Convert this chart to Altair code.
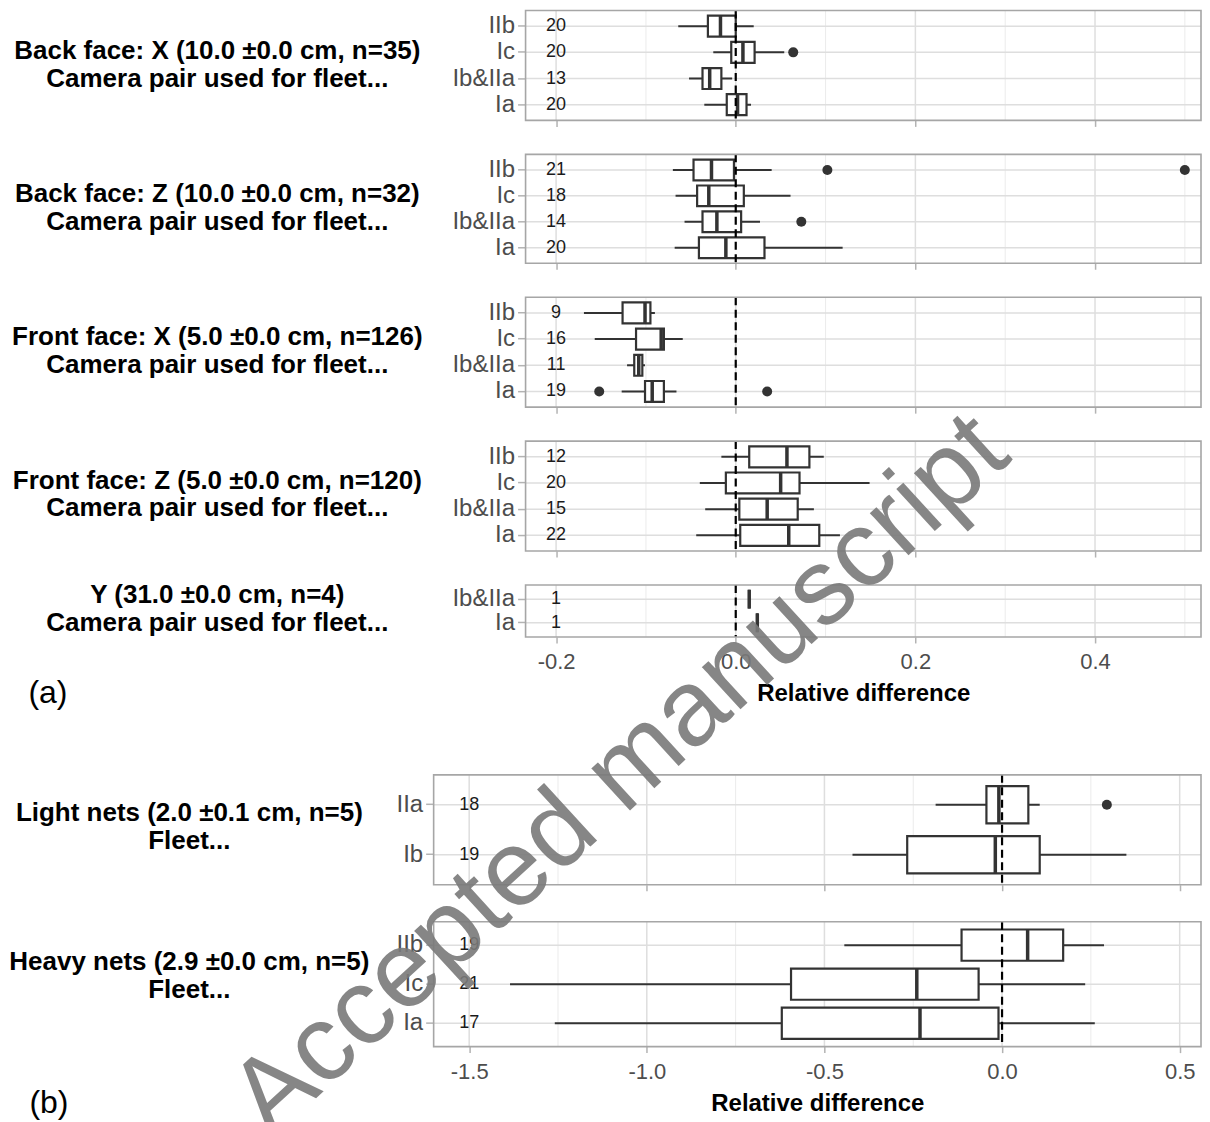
import altair as alt
import pandas as pd

FONT = "Liberation Sans"
DARK = "#333333"
GRID_MAJOR = "#DEDEDE"
GRID_MINOR = "#EBEBEB"
AXIS_GRAY = "#4D4D4D"
TICK_GRAY = "#B3B3B3"
BORDER = "#A6A6A6"

# ---------------- (a) camera-pair panels ----------------
a1_title = ["Back face: X (10.0 ±0.0 cm, n=35)", "Camera pair used for fleet..."]
a1_cats = ["IIb", "Ic", "Ib&IIa", "Ia"]
a1_lo = [-0.064, -0.025, -0.052, -0.035]
a1_q1 = [-0.031, -0.005, -0.037, -0.010]
a1_med = [-0.017, 0.008, -0.029, 0.002]
a1_q3 = [0.000, 0.021, -0.016, 0.012]
a1_hi = [0.020, 0.054, -0.004, 0.017]
a1_n = [20, 20, 13, 20]
a1_out_cat = ["Ic"]
a1_out_val = [0.064]

a2_title = ["Back face: Z (10.0 ±0.0 cm, n=32)", "Camera pair used for fleet..."]
a2_cats = ["IIb", "Ic", "Ib&IIa", "Ia"]
a2_lo = [-0.070, -0.067, -0.057, -0.068]
a2_q1 = [-0.047, -0.043, -0.037, -0.041]
a2_med = [-0.027, -0.030, -0.021, -0.011]
a2_q3 = [-0.002, 0.009, 0.006, 0.032]
a2_hi = [0.040, 0.061, 0.027, 0.119]
a2_n = [21, 18, 14, 20]
a2_out_cat = ["IIb", "IIb", "Ib&IIa"]
a2_out_val = [0.102, 0.500, 0.073]

a3_title = ["Front face: X (5.0 ±0.0 cm, n=126)", "Camera pair used for fleet..."]
a3_cats = ["IIb", "Ic", "Ib&IIa", "Ia"]
a3_lo = [-0.169, -0.157, -0.121, -0.127]
a3_q1 = [-0.126, -0.111, -0.113, -0.101]
a3_med = [-0.101, -0.083, -0.108, -0.093]
a3_q3 = [-0.095, -0.080, -0.104, -0.080]
a3_hi = [-0.090, -0.059, -0.101, -0.066]
a3_n = [9, 16, 11, 19]
a3_out_cat = ["Ia", "Ia"]
a3_out_val = [-0.152, 0.035]

a4_title = ["Front face: Z (5.0 ±0.0 cm, n=120)", "Camera pair used for fleet..."]
a4_cats = ["IIb", "Ic", "Ib&IIa", "Ia"]
a4_lo = [-0.016, -0.040, -0.034, -0.044]
a4_q1 = [0.015, -0.011, 0.004, 0.005]
a4_med = [0.057, 0.050, 0.035, 0.059]
a4_q3 = [0.082, 0.071, 0.069, 0.093]
a4_hi = [0.098, 0.149, 0.087, 0.116]
a4_n = [12, 20, 15, 22]
a4_out_cat = []
a4_out_val = []

a5_title = ["Y (31.0 ±0.0 cm, n=4)", "Camera pair used for fleet..."]
a5_cats = ["Ib&IIa", "Ia"]
a5_lo = [0.015, 0.024]
a5_q1 = [0.015, 0.024]
a5_med = [0.015, 0.024]
a5_q3 = [0.015, 0.024]
a5_hi = [0.015, 0.024]
a5_n = [1, 1]
a5_out_cat = []
a5_out_val = []

a_major = [-0.2, 0.0, 0.2, 0.4]
a_minor = [-0.1, 0.1, 0.3, 0.5]

# ---------------- (b) fleet panels ----------------
b1_title = ["Light nets (2.0 ±0.1 cm, n=5)", "Fleet..."]
b1_cats = ["IIa", "Ib"]
b1_lo = [-0.187, -0.421]
b1_q1 = [-0.044, -0.267]
b1_med = [-0.009, -0.019]
b1_q3 = [0.074, 0.106]
b1_hi = [0.106, 0.350]
b1_n = [18, 19]
b1_out_cat = ["IIa"]
b1_out_val = [0.295]

b2_title = ["Heavy nets (2.9 ±0.0 cm, n=5)", "Fleet..."]
b2_cats = ["IIb", "Ic", "Ia"]
b2_lo = [-0.444, -1.385, -1.259]
b2_q1 = [-0.114, -0.594, -0.620]
b2_med = [0.072, -0.240, -0.231]
b2_q3 = [0.172, -0.066, -0.010]
b2_hi = [0.287, 0.234, 0.261]
b2_n = [19, 21, 17]
b2_out_cat = []
b2_out_val = []

b_major = [-1.5, -1.0, -0.5, 0.0, 0.5]
b_minor = [-1.25, -0.75, -0.25, 0.25]

WATERMARK = "Accepted manuscript"

LABEL_EXPR = "replace(format(datum.value, '.1f'), '\u2212', '-')"
CELL_W = 768          # common cell width (the (b) panel width)


def panel(cats, lo, q1, med, q3, hi, counts, out_cats, out_vals, title_lines,
          domain, major, minor, count_x, x0, pw, ph, cell_h, pad_in, pad_out,
          title_x, title_y, show_x=False, tag=None, tag_xy=None, anchor=None,
          watermark=None):
    box = pd.DataFrame(dict(cat=cats, lo=lo, q1=q1, med=med, q3=q3, hi=hi,
                            n=counts, cx=[count_x] * len(cats)))
    out = pd.DataFrame(dict(cat=out_cats, v=out_vals))
    n_c = len(cats)
    step = ph / (n_c - pad_in + 2 * pad_out)
    band = step * (1 - pad_in)

    xs = alt.Scale(domain=domain, range=[x0, x0 + pw], nice=False, zero=False)
    ys = alt.Scale(domain=cats, range=[0, ph], paddingInner=pad_in,
                   paddingOuter=pad_out)
    xaxis = alt.Axis(title="Relative difference" if show_x else None,
                     values=major, grid=False, domain=False, ticks=True,
                     tickColor=TICK_GRAY, tickSize=6, tickWidth=1.5,
                     labels=show_x, labelExpr=LABEL_EXPR, labelFont=FONT,
                     labelFontSize=22, labelColor=AXIS_GRAY, labelPadding=9,
                     titleFont=FONT, titleFontSize=24, titleFontWeight="bold",
                     titleColor="black", titlePadding=9,
                     offset=-(cell_h - ph))
    yaxis = alt.Axis(title=title_lines, titleAngle=0, titleAlign="center",
                     titleBaseline="middle", titleX=title_x, titleY=title_y,
                     titleFont=FONT, titleFontSize=26, titleFontWeight="bold",
                     titleColor="black", titleLineHeight=27.8,
                     grid=False, bandPosition=0.5, domain=False, ticks=True,
                     tickColor=TICK_GRAY, tickSize=8, tickWidth=1.5,
                     labelFont=FONT, labelFontSize=24, labelColor=AXIS_GRAY,
                     labelPadding=3, offset=-x0)

    def X(f):
        return alt.X(f, type="quantitative", scale=xs, axis=xaxis)

    Y = alt.Y("cat:N", scale=ys, axis=yaxis)
    base = alt.Chart(box)
    layers = [
        # panel background
        alt.Chart(pd.DataFrame({"k": [0]})).mark_rect(fill="white").encode(
            x=alt.value(x0), x2=alt.value(x0 + pw), y=alt.value(0), y2=alt.value(ph)),
        # minor and major vertical grid lines
        alt.Chart(pd.DataFrame({"g": minor})).mark_rule(
            color=GRID_MINOR, strokeWidth=1).encode(
            x=X("g"), y=alt.value(0), y2=alt.value(ph)),
        alt.Chart(pd.DataFrame({"g": major})).mark_rule(
            color=GRID_MAJOR, strokeWidth=1.5).encode(
            x=X("g"), y=alt.value(0), y2=alt.value(ph)),
        # horizontal grid lines at each category
        base.mark_rule(color=GRID_MAJOR, strokeWidth=1.5).encode(
            y=Y, x=alt.value(x0), x2=alt.value(x0 + pw)),
        # whiskers, boxes, medians
        base.mark_rule(color=DARK, strokeWidth=2).encode(x=X("lo"), x2="hi", y=Y),
        base.mark_bar(fill="white", stroke=DARK, strokeWidth=2.2, opacity=1).encode(
            x=X("q1"), x2="q3", y=Y),
        base.mark_tick(color=DARK, thickness=3.5, size=band, opacity=1).encode(
            x=X("med"), y=Y),
    ]
    if len(out_vals):
        layers.append(alt.Chart(out).mark_circle(color=DARK, size=100, opacity=1).encode(
            x=X("v"), y=Y))
    layers.append(base.mark_text(font=FONT, fontSize=18, color="#1A1A1A").encode(
        x=X("cx"), y=Y, text="n:Q"))
    layers.append(alt.Chart(pd.DataFrame({"z": [0.0]})).mark_rule(
        color="black", strokeWidth=2.2, strokeDash=[8, 4.5]).encode(
        x=X("z"), y=alt.value(0), y2=alt.value(ph)))
    # panel border
    layers.append(alt.Chart(pd.DataFrame({"k": [0]})).mark_rect(
        fill="white", fillOpacity=0, stroke=BORDER, strokeWidth=1.6).encode(
        x=alt.value(x0), x2=alt.value(x0 + pw), y=alt.value(0), y2=alt.value(ph)))
    if tag:
        layers.append(alt.Chart(pd.DataFrame({"t": [tag]})).mark_text(
            font=FONT, fontSize=32, color="black", align="center",
            baseline="middle").encode(x=alt.value(tag_xy[0]), y=alt.value(tag_xy[1]),
                                      text="t:N"))
    if anchor:
        # invisible element fixing the left / top edge of the whole figure
        layers.append(alt.Chart(pd.DataFrame({"k": [0]})).mark_rule(
            opacity=0, strokeWidth=0).encode(
            x=alt.value(anchor[0]), x2=alt.value(anchor[0] + 1),
            y=alt.value(anchor[1]), y2=alt.value(anchor[1] + 1)))
    if watermark:
        layers.append(alt.Chart(pd.DataFrame({"t": [watermark[0]]})).mark_text(
            font=FONT, fontSize=watermark[3], color="#7A7A7A", opacity=0.9,
            align="center", baseline="middle", angle=watermark[4]).encode(
            x=alt.value(watermark[1]), y=alt.value(watermark[2]), text="t:N"))
    return alt.layer(*layers).properties(width=CELL_W, height=cell_h)


A = dict(domain=[-0.234, 0.518], major=a_major, minor=a_minor, count_x=-0.2,
         x0=92, pw=676, pad_in=0.2, pad_out=0.2, title_x=-309)
B = dict(domain=[-1.6, 0.56], major=b_major, minor=b_minor, count_x=-1.5,
         x0=0, pw=768, title_x=-245)

p_a1 = panel(a1_cats, a1_lo, a1_q1, a1_med, a1_q3, a1_hi, a1_n, a1_out_cat, a1_out_val,
             a1_title, ph=110, cell_h=144, title_y=40, anchor=(-425, -2), **A)
p_a2 = panel(a2_cats, a2_lo, a2_q1, a2_med, a2_q3, a2_hi, a2_n, a2_out_cat, a2_out_val,
             a2_title, ph=109, cell_h=143, title_y=39.5, **A)
p_a3 = panel(a3_cats, a3_lo, a3_q1, a3_med, a3_q3, a3_hi, a3_n, a3_out_cat, a3_out_val,
             a3_title, ph=110, cell_h=144, title_y=39.7, **A)
p_a4 = panel(a4_cats, a4_lo, a4_q1, a4_med, a4_q3, a4_hi, a4_n, a4_out_cat, a4_out_val,
             a4_title, ph=110, cell_h=144, title_y=39, **A)
p_a5 = panel(a5_cats, a5_lo, a5_q1, a5_med, a5_q3, a5_hi, a5_n, a5_out_cat, a5_out_val,
             a5_title, ph=52, cell_h=190, title_y=10, show_x=True, tag="(a)",
             tag_xy=(-386, 108), **A)
p_b1 = panel(b1_cats, b1_lo, b1_q1, b1_med, b1_q3, b1_hi, b1_n, b1_out_cat, b1_out_val,
             b1_title, ph=110, cell_h=147, pad_in=0.255, pad_out=0.2275, title_y=38, **B)
p_b2 = panel(b2_cats, b2_lo, b2_q1, b2_med, b2_q3, b2_hi, b2_n, b2_out_cat, b2_out_val,
             b2_title, ph=125, cell_h=125, pad_in=0.2, pad_out=0.2, title_y=39.7,
             show_x=True, tag="(b)", tag_xy=(-385, 181),
             watermark=(WATERMARK, 620 - 433, 776 - 922, 108, 317.5), **B)

chart = alt.concat(p_a1, p_a2, p_a3, p_a4, p_a5, p_b1, p_b2, columns=1, spacing=0,
                   align="none", bounds="flush", padding=0
                   ).configure_view(strokeWidth=0, strokeOpacity=0)

chart.save("out.html", embed_options={"renderer": "svg", "actions": False})
